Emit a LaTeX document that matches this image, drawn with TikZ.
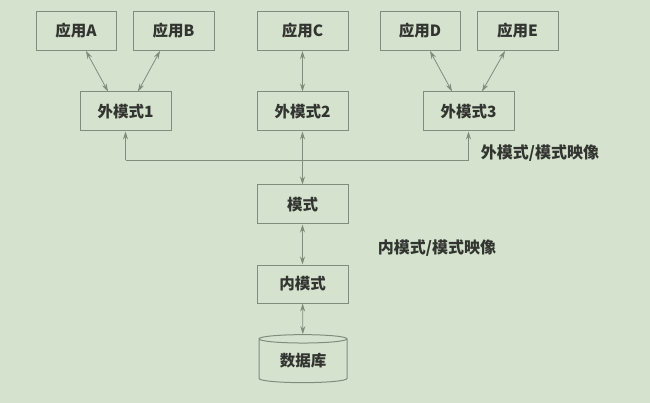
\documentclass[tikz,border=0pt]{standalone}
\usepackage{fontspec}
\newfontfamily\cjk{Noto Sans CJK SC}
\usetikzlibrary{arrows.meta,shapes.geometric}
\definecolor{paper}{RGB}{212,226,206}
\definecolor{edge}{RGB}{128,140,124}
\definecolor{ink}{RGB}{50,52,48}
\begin{document}
\begin{tikzpicture}[x=1pt, y=-1pt,
    box/.style={draw=edge, line width=1pt, minimum width=91pt, minimum height=39pt,
        inner sep=0pt, text=ink, font=\cjk\bfseries\fontsize{15.5}{17}\selectfont},
    link/.style={draw=edge, line width=0.8pt, {Stealth[length=8pt,width=5pt]}-{Stealth[length=8pt,width=5pt]}},
    up/.style={draw=edge, line width=0.8pt, -{Stealth[length=8pt,width=5pt]}},
    maplabel/.style={text=ink, font=\cjk\bfseries\fontsize{16}{18}\selectfont}]
    % paper
    \fill[paper] (0,0) rectangle (650,403);
    \useasboundingbox (0,0) rectangle (650,403);
    % applications
    \node[box, minimum width=80pt] (appA) at (76,31) {应用A};
    \node[box, minimum width=81pt] (appB) at (173.5,31) {应用B};
    \node[box] (appC) at (302.5,31) {应用C};
    \node[box, minimum width=80pt] (appD) at (420,31) {应用D};
    \node[box, minimum width=81pt] (appE) at (517.5,31) {应用E};
    % external schemas
    \node[box] (ext1) at (125.5,111.5) {外模式1};
    \node[box] (ext2) at (302.5,111.5) {外模式2};
    \node[box] (ext3) at (468.5,111.5) {外模式3};
    % schema, internal schema, database
    \node[box] (schema) at (302.5,204.5) {模式};
    \node[box, minimum height=38pt] (inner) at (302.5,284) {内模式};
    \node[box, cylinder, shape border rotate=90, aspect=0.18,
        minimum width=88pt, minimum height=48pt] (db) at (303,361) {数据库};
    % applications to external schemas
    \draw[link] ([xshift=10pt]appA.south) -- ([xshift=-17.5pt]ext1.north);
    \draw[link] ([xshift=-13.5pt]appB.south) -- ([xshift=12.5pt]ext1.north);
    \draw[link] (appC) -- (ext2);
    \draw[link] ([xshift=10pt]appD.south) -- ([xshift=-16.5pt]ext3.north);
    \draw[link] ([xshift=-12.5pt]appE.south) -- ([xshift=13.5pt]ext3.north);
    % external/conceptual mapping
    \coordinate (map1) at (ext1.south |- 0,160);
    \coordinate (map3) at (ext3.south |- 0,160);
    \draw[edge, line width=0.8pt] (map1) -- (map3);
    \draw[up] (map1) -- (ext1.south);
    \draw[up] (map3) -- (ext3.south);
    \draw[link] (ext2) -- (schema);
    \node[maplabel] (extmap) at (540,153) {外模式/模式映像};
    % conceptual/internal mapping
    \draw[link] (schema) -- (inner);
    \draw[link] (inner) -- (db);
    \node[maplabel] (innermap) at (437,248) {内模式/模式映像};
\end{tikzpicture}
\end{document}
